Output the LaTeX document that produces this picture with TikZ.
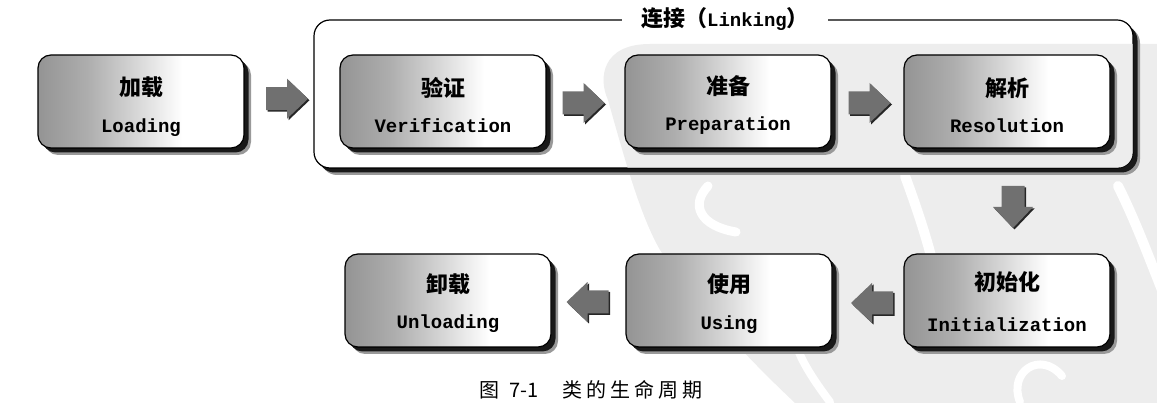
\documentclass[tikz,border=0pt]{standalone}
\usepackage{fontspec}
\setmainfont{Liberation Serif}
\newfontfamily\zhfont{Noto Sans CJK SC}
\newfontfamily\enfont{Liberation Mono}
\usetikzlibrary{shadows,calc}

% grey-to-white fill of the stage boxes (the box spans 25bp..75bp)
\pgfdeclarehorizontalshading{stagefill}{100bp}{%
  color(0bp)=(black!42); color(25bp)=(black!42); color(37bp)=(black!32);
  color(48bp)=(black!17); color(60bp)=(white); color(100bp)=(white)}

% faint seal drawn behind the stages
\newcommand\drawseal{%
  \fill[black!7] (1157,44) -- (650,44) .. controls (602,44) and (598,78) .. (608,100)
    .. controls (625,160) and (640,215) .. (660,250)
    .. controls (700,310) and (760,370) .. (795,403) -- (1157,403) -- cycle;
  \draw[sealstroke, line width=9] (708,186) .. controls (690,205) and (700,226) .. (736,232);
  \draw[sealstroke, line width=10] (905,176) .. controls (925,230) and (940,280) .. (945,330);
  \draw[sealstroke, line width=10] (1118,186) .. controls (1135,220) and (1148,255) .. (1162,290);
  \draw[sealstroke, line width=8] (1020,402) .. controls (1008,372) and (1040,350) .. (1062,376);
  \draw[sealstroke, line width=8] (800,300) .. controls (782,330) and (800,362) .. (830,402);
}

\tikzset{
  stagebox/.style={draw=black, line width=1.2pt, rounded corners=13pt,
    minimum width=206pt, minimum height=93pt, inner sep=0pt, shading=stagefill,
    drop shadow={shadow xshift=7pt, shadow yshift=-7pt, fill=black!40, opacity=1},
    drop shadow={shadow xshift=4.5pt, shadow yshift=-4.5pt, fill=black!90, opacity=1}},
  groupbox/.style={draw=black, line width=1.2pt, rounded corners=16pt, fill=white,
    minimum width=819pt, minimum height=148pt, inner sep=0pt,
    drop shadow={shadow xshift=7pt, shadow yshift=-7pt, fill=black!40, opacity=1},
    drop shadow={shadow xshift=4.5pt, shadow yshift=-4.5pt, fill=black!90, opacity=1}},
  zhlabel/.style={font=\zhfont\bfseries\fontsize{22}{22}\selectfont, inner sep=0pt},
  enlabel/.style={font=\enfont\bfseries\fontsize{19}{19}\selectfont, inner sep=0pt, anchor=base},
  titlelabel/.style={fill=white, inner xsep=19pt, inner ysep=2pt},
  captionlabel/.style={font=\zhfont\fontsize{20}{20}\selectfont, inner sep=0pt},
  sealstroke/.style={draw=white, line cap=round},
  blockarrow/.pic={
    \fill[black!85, transform canvas={shift={(1.5pt,-1.5pt)}}]
      (-21,-11.5) -- (0,-11.5) -- (0,-20) -- (21,0) -- (0,20) -- (0,11.5) -- (-21,11.5) -- cycle;
    \fill[black!56]
      (-21,-11.5) -- (0,-11.5) -- (0,-20) -- (21,0) -- (0,20) -- (0,11.5) -- (-21,11.5) -- cycle;
  }
}

\begin{document}
\begin{tikzpicture}[x=1pt, y=-1pt]
  \useasboundingbox (0,0) rectangle (1157,403);

  % seal behind everything
  \drawseal

  % linking group
  \node[groupbox] (link) at (723.5,94) {};
  % the seal shows through the group's white interior
  \begin{scope}
    \clip[rounded corners=15pt] ([shift={(1,1)}]link.north west) rectangle ([shift={(-1,-1)}]link.south east);
    \drawseal
  \end{scope}

  \node[titlelabel] (linktitle) at ([xshift=1.5pt]link.north)
    {{\zhfont\bfseries\fontsize{22}{22}\selectfont 连接（}{\enfont\bfseries\fontsize{19}{19}\selectfont Linking}{\zhfont\bfseries\fontsize{22}{22}\selectfont ）}};

  % stages
  \node[stagebox] (load) at (141,101.5) {};
  \node[stagebox] (ver)  at (443,101.5) {};
  \node[stagebox] (pre)  at (728,101.5) {};
  \node[stagebox] (res)  at (1007,101.5) {};
  \node[stagebox] (unl)  at (448,300.5) {};
  \node[stagebox] (use)  at (729,300.5) {};
  \node[stagebox] (init) at (1007,300.5) {};

  \node[zhlabel] (loadzh) at ([yshift=14pt]load.center) {加载};
  \node[enlabel] (loaden) at ([yshift=-31pt]load.center) {Loading};
  \node[zhlabel] (verzh)  at ([yshift=14pt]ver.center) {验证};
  \node[enlabel] (veren)  at ([yshift=-31pt]ver.center) {Verification};
  \node[zhlabel] (prezh)  at ([yshift=15pt]pre.center) {准备};
  \node[enlabel] (preen)  at ([yshift=-29pt]pre.center) {Preparation};
  \node[zhlabel] (reszh)  at ([yshift=13pt]res.center) {解析};
  \node[enlabel] (resen)  at ([yshift=-31pt]res.center) {Resolution};
  \node[zhlabel] (unlzh)  at ([yshift=16pt]unl.center) {卸载};
  \node[enlabel] (unlen)  at ([yshift=-28pt]unl.center) {Unloading};
  \node[zhlabel] (usezh)  at ([yshift=16pt]use.center) {使用};
  \node[enlabel] (useen)  at ([yshift=-29pt]use.center) {Using};
  \node[zhlabel] (initzh) at ([yshift=18pt]init.center) {初始化};
  \node[enlabel] (initen) at ([yshift=-31pt]init.center) {Initialization};

  % flow arrows
  \pic at ($(load.east)!0.5!(link.west)+(8,1)$) {blockarrow};
  \pic at ($(ver.east)!0.5!(pre.west)+(-2,1.5)$) {blockarrow};
  \pic at ($(pre.east)!0.5!(res.west)+(2,1.5)$) {blockarrow};
  \pic[rotate=-90] at ($(res.south)!0.5!(init.north)+(6,6)$) {blockarrow};
  \pic[rotate=180] at ($(init.west)!0.5!(use.east)+(4,2.5)$) {blockarrow};
  \pic[rotate=180] at ($(use.west)!0.5!(unl.east)+(-1,1.5)$) {blockarrow};

  % caption
  \node[captionlabel] (caption) at (591,390)
    {图\hspace{10pt}7-1\hspace{24pt}类\hspace{4pt}的\hspace{4pt}生\hspace{4pt}命\hspace{4pt}周\hspace{4pt}期};
\end{tikzpicture}
\end{document}
